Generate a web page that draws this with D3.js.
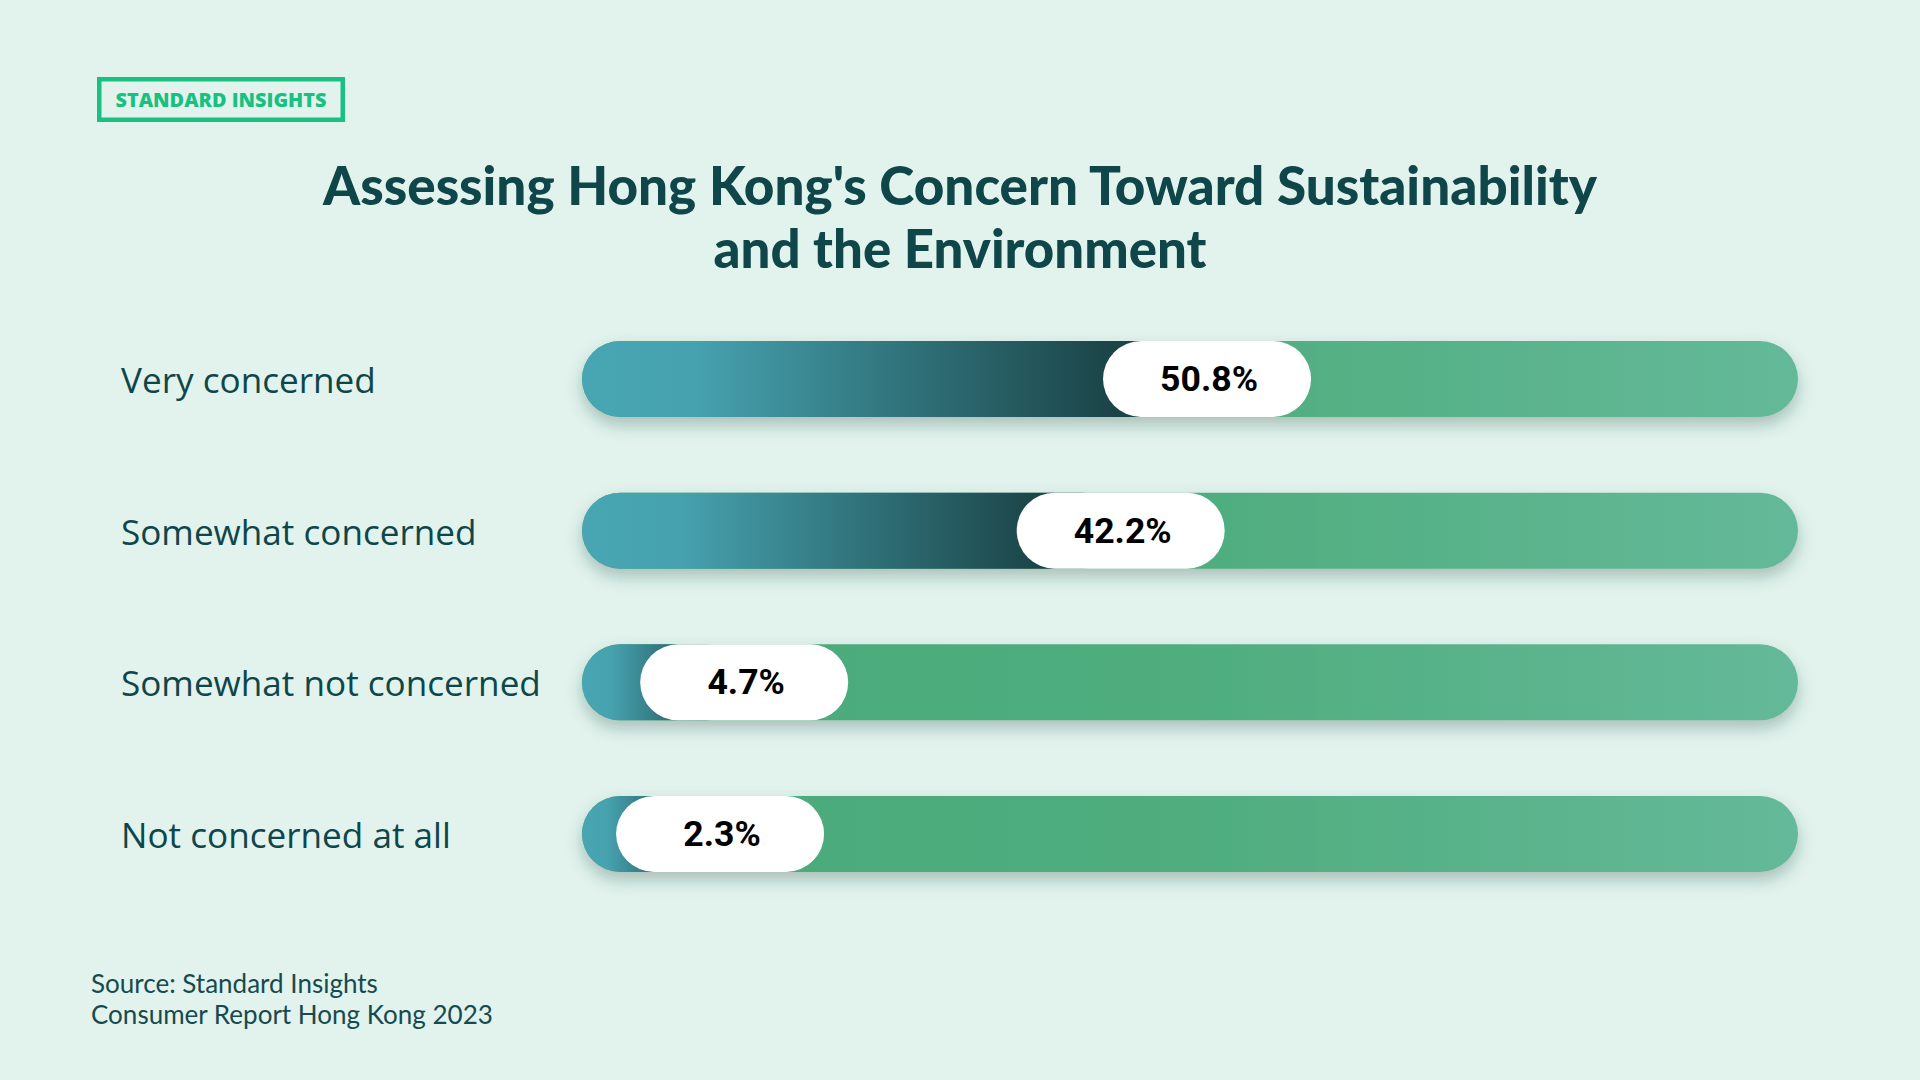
<!DOCTYPE html>
<html>
<head>
<meta charset="utf-8">
<script src="https://cdn.jsdelivr.net/npm/d3@7"></script>
<style>
  html, body { margin: 0; padding: 0; background: #e2f3ed; }
  svg { display: block; }
</style>
</head>
<body>
<svg id="chart" width="1920" height="1080"></svg>
<script>
// ---- data ----
const categories = ["Very concerned", "Somewhat concerned", "Somewhat not concerned", "Not concerned at all"];
const values = [50.8, 42.2, 4.7, 2.3];
const titleLines = ["Assessing Hong Kong's Concern Toward Sustainability", "and the Environment"];
const brand = "STANDARD INSIGHTS";
const sourceLines = ["Source: Standard Insights", "Consumer Report Hong Kong 2023"];

// ---- layout ----
const W = 1920, H = 1080;
const barX0 = 582, barX1 = 1798, barH = 76, pillW = 208;
const dark = "#0f464a";

const svg = d3.select("#chart");
svg.append("rect").attr("width", W).attr("height", H).attr("fill", "#e2f3ed");

const defs = svg.append("defs");
const f = defs.append("filter").attr("id", "shadow")
  .attr("x", "-10%").attr("y", "-60%").attr("width", "120%").attr("height", "220%");
f.append("feDropShadow").attr("dx", 0).attr("dy", 8).attr("stdDeviation", 8)
  .attr("flood-color", "#24473d").attr("flood-opacity", 0.3);

const gGreen = defs.append("linearGradient").attr("id", "green")
  .attr("gradientUnits", "userSpaceOnUse").attr("x1", barX0).attr("x2", barX1).attr("y1", 0).attr("y2", 0);
[[0, "#4aaa79"], [0.5, "#4fad7e"], [1, "#64b999"]].forEach(([o, c]) =>
  gGreen.append("stop").attr("offset", o).attr("stop-color", c));

const gTeal = defs.append("linearGradient").attr("id", "teal")
  .attr("x1", 0).attr("x2", 1).attr("y1", 0).attr("y2", 0);
[[0, "#48a5b2"], [0.18, "#46a2af"], [0.85, "#1b4447"], [1, "#1b4447"]].forEach(([o, c]) =>
  gTeal.append("stop").attr("offset", o).attr("stop-color", c));

// helper: scale font-size so text reaches target width
function fit(sel, target) {
  const fs = parseFloat(sel.attr("font-size"));
  const w = sel.node().getComputedTextLength();
  if (w > 0) sel.attr("font-size", (fs * target / w).toFixed(2));
  return sel;
}

// ---- brand box ----
svg.append("rect").attr("x", 99.25).attr("y", 79.25).attr("width", 243.5).attr("height", 40.5)
  .attr("fill", "none").attr("stroke", "#18c182").attr("stroke-width", 4.5);
fit(svg.append("text").attr("x", 221).attr("y", 106.7).attr("text-anchor", "middle")
  .attr("font-family", "'Open Sans', sans-serif").attr("font-weight", 800).attr("font-size", 20)
  .attr("fill", "#18c182").text(brand), 211);

// ---- title ----
const titleBase = [205, 268];
const titleWidths = [1274, 493];
titleLines.forEach((t, i) => {
  fit(svg.append("text").attr("x", W / 2).attr("y", titleBase[i]).attr("text-anchor", "middle")
    .attr("font-family", "Lato, sans-serif").attr("font-weight", 900).attr("font-size", 48)
    .attr("fill", dark).text(t), titleWidths[i]);
});

// ---- scales ----
const y = d3.scalePoint().domain(categories).range([379, 834]);
const x = d3.scaleLinear().domain([0, 100]).range([697, 1701]);

// ---- labels ----
const labelText = svg.append("g").selectAll("text").data(categories).join("text")
  .attr("x", 121).attr("y", d => y(d) + 14)
  .attr("font-family", "'Open Sans', sans-serif").attr("font-weight", 500).attr("font-size", 32)
  .attr("fill", dark).text(d => d);
(function () {
  const node = labelText.filter(d => d === "Somewhat not concerned");
  const w = node.node().getComputedTextLength();
  labelText.attr("font-size", (32 * 420 / w).toFixed(2));
})();

// ---- bars ----
const rows = categories.map((c, i) => ({ cat: c, v: values[i] }));
const bars = svg.append("g").selectAll("g").data(rows).join("g")
  .attr("transform", d => `translate(0,${y(d.cat) - barH / 2})`);

bars.append("rect").attr("x", barX0).attr("width", barX1 - barX0).attr("height", barH)
  .attr("rx", barH / 2).attr("fill", "url(#green)").attr("filter", "url(#shadow)");
bars.append("rect").attr("x", barX0).attr("width", d => x(d.v) - barX0).attr("height", barH)
  .attr("rx", barH / 2).attr("fill", "url(#teal)");
bars.append("rect").attr("x", d => x(d.v) - pillW / 2).attr("width", pillW).attr("height", barH)
  .attr("rx", barH / 2).attr("fill", "#ffffff");
const vt = bars.append("text").attr("x", d => x(d.v) + 2).attr("y", barH / 2 + 12)
  .attr("text-anchor", "middle")
  .attr("font-family", "Roboto, sans-serif").attr("font-weight", 700).attr("font-size", 34)
  .attr("fill", "#000").text(d => d.v.toFixed(1) + "%");
(function () {
  const w = vt.filter((d, i) => i === 0).node().getComputedTextLength();
  vt.attr("font-size", (34 * 98 / w).toFixed(2));
})();

// ---- source ----
const srcBase = [993, 1024];
const st = svg.append("g").selectAll("text").data(sourceLines).join("text")
  .attr("x", 91).attr("y", (d, i) => srcBase[i])
  .attr("font-family", "Lato, sans-serif").attr("font-weight", 400).attr("font-size", 25)
  .attr("fill", "#174a4f").text(d => d);
(function () {
  const w = st.filter((d, i) => i === 1).node().getComputedTextLength();
  st.attr("font-size", (25 * 402 / w).toFixed(2));
})();
</script>
</body>
</html>
